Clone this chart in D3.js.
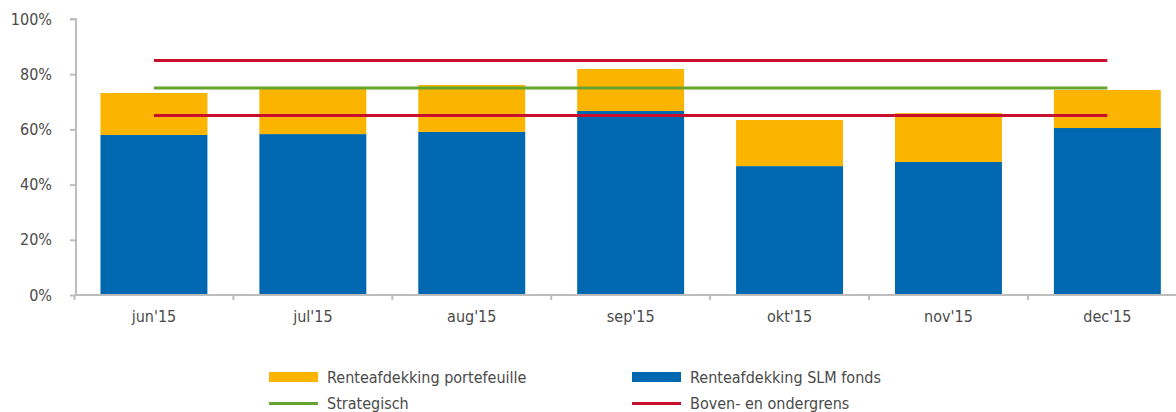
<!DOCTYPE html>
<html><head><meta charset="utf-8">
<script src="https://cdn.jsdelivr.net/npm/d3@7"></script>
<style>
html,body{margin:0;padding:0;background:#fff;}
svg{display:block;}
text{font-family:"Liberation Sans Narrow","DejaVu Sans Condensed","Roboto",sans-serif;fill:#4a4a4a;}
</style></head><body>
<svg id="c" width="1176" height="412"></svg>
<script>
const categories = ["jun'15","jul'15","aug'15","sep'15","okt'15","nov'15","dec'15"];
const slmFonds = [58.0, 58.3, 59.1, 66.7, 46.7, 48.2, 60.5];
const portefeuille = [15.2, 16.5, 17.0, 15.2, 16.7, 17.7, 13.8];
const strategisch = [75, 75, 75, 75, 75, 75, 75];
const bovengrens = [85, 85, 85, 85, 85, 85, 85];
const ondergrens = [65, 65, 65, 65, 65, 65, 65];
const yTicks = [0, 20, 40, 60, 80, 100];
const legendLabels = ["Renteafdekking portefeuille","Renteafdekking SLM fonds","Strategisch","Boven- en ondergrens"];

const colBlue = "#0067b1", colYellow = "#fbb400", colGreen = "#65a32e", colRed = "#c8102e", colAxis = "#bdbdbd";

const svg = d3.select("#c");
const x0 = 74.5, step = 158.9;
const x = d3.scaleBand().domain(categories).range([x0, x0 + step*categories.length]).paddingInner(0.327).paddingOuter(0.1635);
const y = d3.scaleLinear().domain([0, 100]).range([295, 19]);

const data = categories.map((c,i)=>({c, blue: slmFonds[i], yel: portefeuille[i]}));

// bars
const g = svg.append("g");
g.selectAll("rect.b").data(data).join("rect").attr("class","b")
  .attr("x", d=>x(d.c)).attr("width", x.bandwidth())
  .attr("y", d=>y(d.blue)).attr("height", d=>y(0)-y(d.blue)).attr("fill", colBlue);
g.selectAll("rect.yl").data(data).join("rect").attr("class","yl")
  .attr("x", d=>x(d.c)).attr("width", x.bandwidth())
  .attr("y", d=>y(d.blue+d.yel)).attr("height", d=>y(d.blue)-y(d.blue+d.yel)).attr("fill", colYellow);

// axes
const yAxis = svg.append("g").attr("transform","translate(76,0)")
  .call(d3.axisLeft(y).tickValues(yTicks).tickFormat(d=>d+"%").tickSize(6).tickPadding(18));
yAxis.select(".domain").attr("stroke", colAxis).attr("stroke-width", 2).attr("d", `M-6,${y(100)}H0V${y(0)}`);
yAxis.selectAll(".tick line").attr("stroke", colAxis).attr("stroke-width", 2);
yAxis.selectAll(".tick text").attr("font-size", 16).attr("fill","#4a4a4a");

const xAxis = svg.append("g").attr("transform",`translate(0,${y(0)})`)
  .call(d3.axisBottom(x).tickSize(0).tickPadding(16));
xAxis.select(".domain").attr("stroke", colAxis).attr("stroke-width", 2).attr("d", `M${x0},0H1176`);
xAxis.selectAll(".tick text").attr("font-size", 16).attr("fill","#4a4a4a");
const bounds = d3.range(categories.length+1).map(i => x0 + i*x.step());
xAxis.selectAll("line.bt").data(bounds).join("line").attr("class","bt")
  .attr("x1", d=>d).attr("x2", d=>d).attr("y1", 0).attr("y2", 5)
  .attr("stroke", colAxis).attr("stroke-width", 2);

// reference lines
const cx = c => x(c) + x.bandwidth()/2;
function refLine(vals, col){
  const line = d3.line().x((d,i)=>cx(categories[i])).y(d=>y(d));
  svg.append("path").datum(vals).attr("d", line).attr("fill","none").attr("stroke", col).attr("stroke-width", 3);
}
refLine(bovengrens, colRed);
refLine(strategisch, colGreen);
refLine(ondergrens, colRed);

// legend
const leg = svg.append("g");
const items = [
  {t: legendLabels[0], type:"rect", col: colYellow, x: 269, y: 377},
  {t: legendLabels[1], type:"rect", col: colBlue, x: 632, y: 377},
  {t: legendLabels[2], type:"line", col: colGreen, x: 269, y: 403.5},
  {t: legendLabels[3], type:"line", col: colRed, x: 632, y: 403.5}
];
items.forEach(it=>{
  if(it.type==="rect") leg.append("rect").attr("x", it.x).attr("y", it.y-5).attr("width", 49).attr("height", 10).attr("fill", it.col);
  else leg.append("line").attr("x1", it.x).attr("x2", it.x+49).attr("y1", it.y).attr("y2", it.y).attr("stroke", it.col).attr("stroke-width", 3);
  leg.append("text").attr("x", it.x+58).attr("y", it.y).attr("dy","0.35em").attr("font-size", 16).text(it.t);
});
</script></body></html>
